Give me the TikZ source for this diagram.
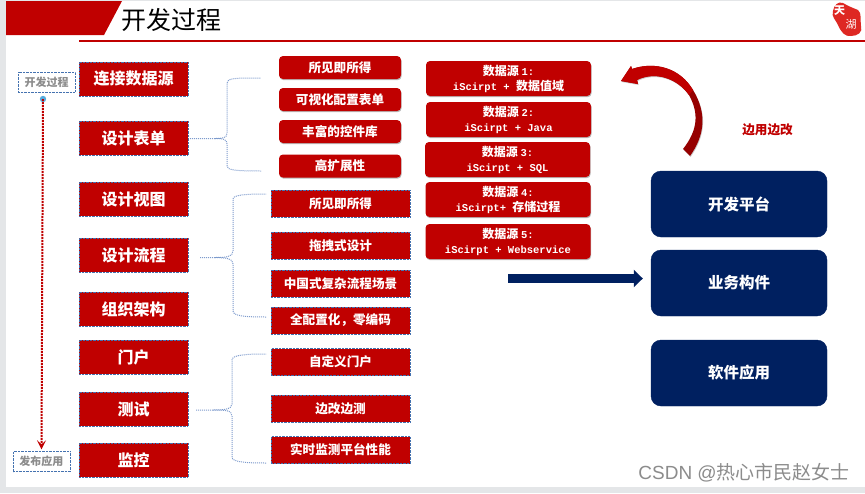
\documentclass[tikz,border=0pt]{standalone}
\usepackage{fontspec}
\setmainfont{Noto Sans CJK SC}
\newfontfamily\latinmono{Liberation Mono}
\newfontfamily\latinsans{Liberation Sans}
\usepackage{xcolor}
\usetikzlibrary{arrows.meta,calc,shadows}
\definecolor{RojoCaja}{RGB}{192,0,0}
\definecolor{RojoOscuro}{RGB}{150,0,0}
\definecolor{RojoSello}{RGB}{222,40,35}
\definecolor{AzulCaja}{RGB}{0,32,96}
\definecolor{AzulPunto}{RGB}{68,114,176}
\definecolor{AzulClaro}{RGB}{125,155,205}
\definecolor{AzulBola}{RGB}{85,170,220}
\definecolor{GrisMarco}{RGB}{228,230,232}
\newcommand{\monotxt}[1]{{\latinmono\bfseries\fontsize{10.5}{15}\selectfont #1}}
\tikzset{
  etapa/.style={draw=AzulPunto,densely dotted,fill=RojoCaja,text=white,font=\bfseries\fontsize{16}{18}\selectfont,minimum width=109pt,minimum height=34pt,inner sep=0pt},
  detalle/.style={draw=AzulPunto,densely dotted,fill=RojoCaja,text=white,font=\bfseries\fontsize{12.6}{14}\selectfont,minimum width=139pt,minimum height=27pt,inner sep=0pt},
  sombreada/.style={fill=RojoCaja,rounded corners=4pt,text=white,drop shadow={shadow xshift=0.6pt,shadow yshift=-1.2pt,opacity=.55}},
  rasgo/.style={sombreada,font=\bfseries\fontsize{12.6}{14}\selectfont,minimum width=122pt,minimum height=23pt,inner sep=0pt},
  fuente/.style={sombreada,font=\bfseries\fontsize{12}{15}\selectfont,align=center,minimum width=165pt,minimum height=35pt,inner sep=0pt},
  plataforma/.style={draw=AzulCaja,fill=AzulCaja,rounded corners=10pt,text=white,font=\bfseries\fontsize{15.5}{18}\selectfont,minimum width=176pt,minimum height=66pt,inner sep=0pt},
  etiqueta/.style={draw=AzulPunto,densely dotted,fill=white,text=black!45,font=\bfseries\fontsize{11}{13}\selectfont,minimum width=57pt,minimum height=20pt,inner sep=0pt},
  llave/.style={AzulClaro,densely dotted,line width=1pt},
}
\begin{document}
\begin{tikzpicture}[x=1pt,y=-1pt]
  \useasboundingbox (0,0) rectangle (865,493);
  % marco de la diapositiva
  \fill[GrisMarco] (0,0) rectangle (865,493);
  \fill[white] (6,1) rectangle (865,487);
  % cabecera
  \fill[RojoCaja] (6,1) -- (122,1) -- (104,35) -- (6,35) -- cycle;
  \fill[RojoCaja] (79,40) rectangle (865,42);
  \node[font=\fontsize{25}{28}\selectfont,anchor=west,inner sep=0pt] (titulo) at (121.5,20) {开发过程};
  % sello
  \fill[RojoSello] (833,11) .. controls (834,5) and (838,1) .. (843,3) .. controls (848,6) and (853,8) .. (858,10) .. controls (862,13) and (860,20) .. (861,26) .. controls (863,32) and (858,36) .. (851,36) .. controls (845,37) and (841,32) .. (838,25) .. controls (836,20) and (831,17) .. (833,11) -- cycle;
  \node[text=white,font=\bfseries\fontsize{11}{11}\selectfont,inner sep=0pt] (selloA) at (839.5,11) {天};
  \node[text=white,font=\fontsize{11}{11}\selectfont,inner sep=0pt] (selloB) at (851,24) {湖};
  % columna izquierda
  \node[etapa] (conectar) at (133.5,79) {连接数据源};
  \node[etapa] (formulario) at (133.5,138) {设计表单};
  \node[etapa] (vista) at (133.5,199) {设计视图};
  \node[etapa] (flujo) at (133.5,255) {设计流程};
  \node[etapa] (organizacion) at (133.5,309) {组织架构};
  \node[etapa] (portal) at (133.5,357) {门户};
  \node[etapa] (prueba) at (133.5,409) {测试};
  \node[etapa] (monitor) at (133.5,460) {监控};
  % eje del proceso
  \node[etiqueta] (inicio) at (46.5,82) {开发过程};
  \node[etiqueta] (fin) at (41.5,461.5) {发布应用};
  \fill[AzulBola] (43,99) circle (3.2pt) coordinate (punto);
  \draw[RojoCaja,densely dotted,line width=2pt,-{Stealth[length=9pt,width=9pt,inset=4pt]}] (punto) -- ($(fin.north)+(0,-2)$);
  % primer grupo
  \node[rasgo] (r1) at (340,67.5) {所见即所得};
  \node[rasgo] (r2) at (340,99.5) {可视化配置表单};
  \node[rasgo] (r3) at (340,131.5) {丰富的控件库};
  \node[rasgo] (r4) at (340,166) {高扩展性};
  \coordinate (r1e) at (261,78);
  \coordinate (r4e) at (261,171);
  \draw[llave] ($(formulario.east)+(2,0.5)$) -- (215,138.5) .. controls (223,138.5) and (227,138) .. (227,133) -- (227,83) .. controls (227,78) and (235,78) .. (r1e);
  \draw[llave] (215,138.5) .. controls (223,138.5) and (227,139) .. (227,144) -- (227,166) .. controls (227,170) and (235,171) .. (r4e);
  % segundo grupo
  \node[detalle] (d1) at (340.5,203.5) {所见即所得};
  \node[detalle] (d2) at (340.5,245.5) {拖拽式设计};
  \node[detalle] (d3) at (340.5,283.5) {中国式复杂流程场景};
  \node[detalle] (d4) at (340.5,320.5) {全配置化，零编码};
  \coordinate (d1e) at (266,194);
  \coordinate (d4e) at (266,317);
  \draw[llave] ($(flujo.east)+(12,2.5)$) -- (215,257.5) .. controls (226,257.5) and (233,257) .. (233,251) -- (233,199) .. controls (233,195) and (245,194) .. (d1e);
  \draw[llave] (215,257.5) .. controls (226,258) and (233,258) .. (233,264) -- (233,311) .. controls (233,316) and (245,317) .. (d4e);
  % tercer grupo
  \node[detalle] (d5) at (340.5,362) {自定义门户};
  \node[detalle] (d6) at (340.5,408.5) {边改边测};
  \node[detalle] (d7) at (340.5,450) {实时监测平台性能};
  \coordinate (d5e) at (266,354);
  \coordinate (d7e) at (266,463);
  \draw[llave] ($(prueba.east)+(8,1)$) -- (213,410) .. controls (225,410) and (232,409) .. (232,404) -- (232,360) .. controls (232,355) and (245,354) .. (d5e);
  \draw[llave] (213,410) .. controls (225,410) and (232,410) .. (232,416) -- (232,457) .. controls (232,462) and (245,463) .. (d7e);
  % fuentes de datos
  \node[fuente] (f1) at (508.5,78.5) {数据源 \monotxt{1:}\\\monotxt{iScirpt + }数据值域};
  \node[fuente] (f2) at (508.5,119.5) {数据源 \monotxt{2:}\\\monotxt{iScirpt + Java}};
  \node[fuente] (f3) at (507.5,159.5) {数据源 \monotxt{3:}\\\monotxt{iScirpt + SQL}};
  \node[fuente] (f4) at (508,199.5) {数据源 \monotxt{4:}\\\monotxt{iScirpt+ }存储过程};
  \node[fuente] (f5) at (508,241.5) {数据源 \monotxt{5:}\\\monotxt{iScirpt + Webservice}};
  % plataformas
  \node[plataforma] (p1) at (739,204) {开发平台};
  \node[plataforma] (p2) at (739,283) {业务构件};
  \node[plataforma] (p3) at (739,373) {软件应用};
  % flecha azul
  \coordinate (flechaA) at (508,278.5);
  \draw[AzulCaja,line width=9pt,-{Triangle[length=9pt,width=17pt]}] (flechaA) -- ($(p2.west)+(-8,-4.5)$);
  % flecha curva
  \fill[RojoOscuro,drop shadow={shadow xshift=0.6pt,shadow yshift=-1pt,opacity=.4}] (632,69) .. controls (655,61) and (680,68) .. (693,90) .. controls (707,113) and (705,135) .. (690,156) -- (683,149) .. controls (698,130) and (699,113) .. (689,95) .. controls (677,78) and (655,71) .. (637,80) -- (638,84) -- (621,81) -- (631,66) -- cycle;
  \fill[RojoCaja] (632,69) .. controls (655,61) and (680,68) .. (693,90) -- (689,95) .. controls (677,78) and (655,71) .. (637,80) -- (638,84) -- (621,81) -- (631,66) -- cycle;
  \node[text=RojoCaja,font=\bfseries\fontsize{12.6}{14}\selectfont,inner sep=0pt] (lema) at (767.5,130) {边用边改};
  % marca de agua
  \node[text=black!45,font=\fontsize{19}{22}\selectfont,anchor=east,inner sep=0pt] (marca) at (850,473) {{\latinsans CSDN @}热心市民赵女士};
\end{tikzpicture}
\end{document}
